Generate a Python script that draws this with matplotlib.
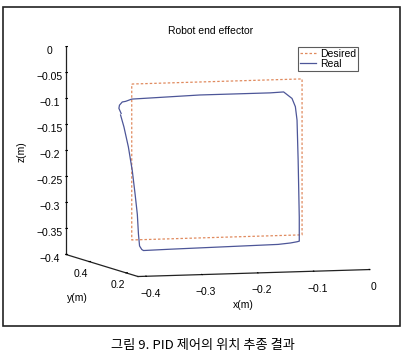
import numpy as np
import matplotlib
matplotlib.use("Agg")
import matplotlib.pyplot as plt
from matplotlib.patches import Rectangle

plt.rcParams['font.family'] = ['Liberation Sans', 'Noto Sans CJK KR', 'DejaVu Sans']

# ---- data ----
x_limits = (-0.415, 0.0)
y_limits = (0.135, 0.525)
z_limits = (-0.4, 0.0)
x_ticks = [-0.4, -0.3, -0.2, -0.1, 0.0]
x_ticklabels = ['\u22120.4', '\u22120.3', '\u22120.2', '\u22120.1', '0']
y_ticks = [0.2, 0.4]
y_ticklabels = ['0.2', '0.4']
z_ticks = [0.0, -0.05, -0.1, -0.15, -0.2, -0.25, -0.3, -0.35, -0.4]
z_ticklabels = ['0', '\u22120.05', '\u22120.1', '\u22120.15', '\u22120.2', '\u22120.25', '\u22120.3', '\u22120.35', '\u22120.4']

desired_x = [-0.355, -0.05, -0.05, -0.355, -0.355]
desired_y = [0.35, 0.35, 0.35, 0.35, 0.35]
desired_z = [-0.055, -0.055, -0.355, -0.355, -0.055]

real_x = [-0.374, -0.378, -0.377, -0.372, -0.366, -0.355, -0.233, -0.107, -0.083, -0.068,
          -0.062, -0.059, -0.057, -0.055, -0.055, -0.059, -0.071, -0.093, -0.286, -0.334,
          -0.337, -0.341, -0.343, -0.345, -0.349, -0.354, -0.361, -0.369, -0.375]
real_z = [-0.111, -0.101, -0.095, -0.089, -0.088, -0.084, -0.080, -0.080, -0.079, -0.092,
          -0.108, -0.134, -0.212, -0.321, -0.367, -0.368, -0.370, -0.372, -0.375, -0.376,
          -0.374, -0.367, -0.344, -0.306, -0.267, -0.222, -0.176, -0.137, -0.114]
real_y = [0.35] * len(real_x)

title = 'Robot end effector'
caption = '그림 9. PID 제어의 위치 추종 결과'

# ---- figure ----
W, H = 406, 359
fig = plt.figure(figsize=(W / 100, H / 100), dpi=100)
ax = fig.add_axes([0.1025, 0.1746, 0.85, 0.75], projection='3d')
ax.set_proj_type('ortho')
ax.view_init(elev=5.5, azim=-107.4)
ax.set_box_aspect((243, 241, 209), zoom=1.445)

ax.plot(desired_x, desired_y, desired_z, ls=(0, (2, 1.6)), color='#e08a5e', lw=0.9, label='Desired')
ax.plot(real_x, real_y, real_z, ls='-', color='#4d5698', lw=0.9, label='Real')

ax.set_xlim(*x_limits)
ax.set_ylim(*y_limits)
ax.set_zlim(*z_limits)
ax.set_xticks(x_ticks)
ax.set_xticklabels(x_ticklabels)
ax.set_yticks(y_ticks)
ax.set_yticklabels(y_ticklabels)
ax.set_zticks(z_ticks)
ax.set_zticklabels(z_ticklabels)
ax.tick_params(labelsize=7.5, pad=-2.5)
ax.yaxis.set_tick_params(pad=-4.5)
ax.grid(False)
for axis in (ax.xaxis, ax.yaxis, ax.zaxis):
    axis.set_pane_color((1, 1, 1, 0))
    axis.pane.set_edgecolor((1, 1, 1, 0))
    axis.line.set_color('#222222')
    axis.line.set_linewidth(0.9)
    axis._axinfo['tick']['inward_factor'] = 0.0
    axis._axinfo['tick']['outward_factor'] = 0.08
    axis._axinfo['tick']['linewidth'] = {True: 0.8, False: 0.5}

fig.text(211 / W, 1 - 31 / H, title, ha='center', va='center', fontsize=7.5)
fig.text(243 / W, 1 - 305 / H, 'x(m)', ha='center', va='center', fontsize=7.5)
fig.text(77 / W, 1 - 298 / H, 'y(m)', ha='center', va='center', fontsize=7.5)
fig.text(22 / W, 1 - 152 / H, 'z(m)', ha='center', va='center', fontsize=7.5, rotation=90)
fig.text(203 / W, 1 - 346 / H, caption, ha='center', va='center', fontsize=9.5,
         family=['Noto Sans CJK KR', 'DejaVu Sans'])

fig.patches.append(Rectangle((3 / W, 1 - 326 / H), 397 / W, 319 / H, transform=fig.transFigure,
                             fill=False, lw=1.2, ec='#222222'))

leg = ax.legend(loc='upper left', bbox_to_anchor=(298 / W, 1 - 47 / H), bbox_transform=fig.transFigure,
                fontsize=7.5, frameon=True, fancybox=False, edgecolor='#333333', handlelength=1.6,
                borderpad=0.15, labelspacing=0.05, handletextpad=0.4, borderaxespad=0)
leg.get_frame().set_linewidth(0.8)

fig.savefig('out.png', dpi=100)
